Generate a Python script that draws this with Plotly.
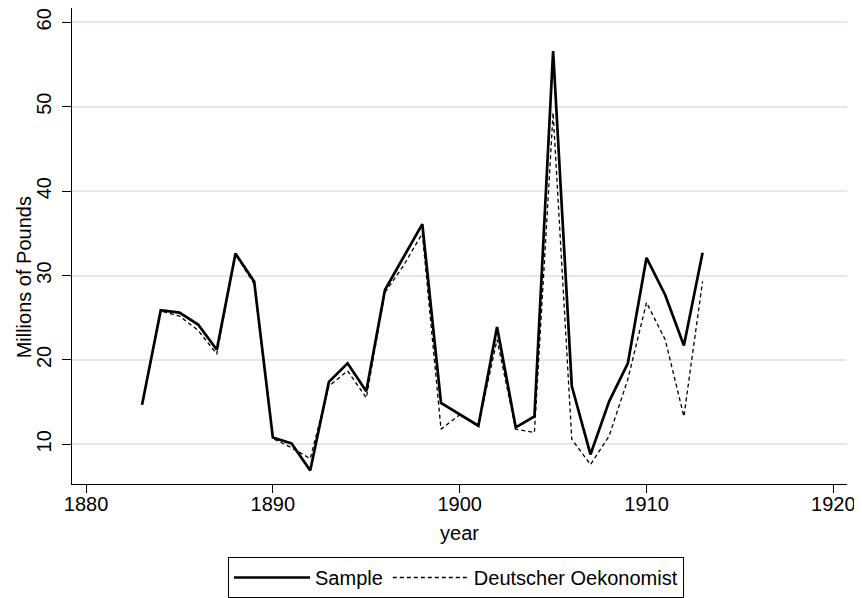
import plotly.graph_objects as go

years = list(range(1883, 1914))
sample = [14.7, 25.9, 25.6, 24.2, 21.2, 32.6, 29.3, 10.8, 10.1, 6.9,
          17.4, 19.6, 16.3, 28.3, 32.2, 36.1, 14.9, 13.6, 12.2, 23.9,
          12.0, 13.3, 56.6, 16.9, 8.8, 15.1, 19.6, 32.1, 27.7, 21.7, 32.7]
oekonomist = [14.7, 25.8, 25.2, 23.5, 20.7, 32.5, 29.0, 10.7, 9.6, 8.3,
              16.9, 18.7, 15.5, 28.0, 31.2, 35.0, 11.8, 13.5, 12.2, 22.4,
              11.8, 11.4, 49.3, 10.6, 7.6, 11.0, 17.7, 26.8, 22.4, 13.3, 29.3]
x_ticks = [1880, 1890, 1900, 1910, 1920]
y_ticks = [10, 20, 30, 40, 50, 60]
y_title = "Millions of Pounds"
x_title = "year"

FONT = "Liberation Sans, Arial, sans-serif"

fig = go.Figure()
fig.add_trace(go.Scatter(x=years, y=oekonomist, mode="lines", name="Deutscher Oekonomist",
                         line=dict(color="black", width=1.3, dash="4px,3px"), legendrank=2))
fig.add_trace(go.Scatter(x=years, y=sample, mode="lines", name="Sample",
                         line=dict(color="black", width=2.7), legendrank=1))

# page body adds an 8px offset, so the figure is 8px smaller each way
fig.update_layout(
    width=854, height=590,
    margin=dict(l=64, r=15, t=0, b=113),
    paper_bgcolor="white", plot_bgcolor="white",
    font=dict(family=FONT, size=20, color="black"),
    showlegend=True,
    legend=dict(orientation="h", x=0.4955, xanchor="center", y=-0.153, yanchor="top",
                bordercolor="black", borderwidth=1, font=dict(size=20),
                itemwidth=76, traceorder="normal"),
    annotations=[dict(text=y_title, textangle=-90, xref="paper", yref="paper",
                      x=-0.062, y=0.434, xanchor="center", yanchor="middle",
                      showarrow=False, font=dict(size=20))],
)
fig.update_xaxes(range=[1879.25, 1920.73], tickvals=x_ticks, showgrid=False,
                 showline=True, linecolor="black", linewidth=1,
                 ticks="outside", ticklen=8, tickcolor="black", automargin=False,
                 ticklabelstandoff=-6,
                 title=dict(text=x_title, standoff=11, font=dict(size=20)), zeroline=False)
fig.update_yaxes(range=[5.3, 61.7], tickvals=y_ticks, showgrid=True,
                 gridcolor="#e3e7f1", gridwidth=1.5,
                 showline=True, linecolor="black", linewidth=1,
                 ticks="outside", ticklen=9, tickcolor="black", tickangle=-90,
                 automargin=False, ticklabelstandoff=3, zeroline=False)

fig.write_html("out.html")
